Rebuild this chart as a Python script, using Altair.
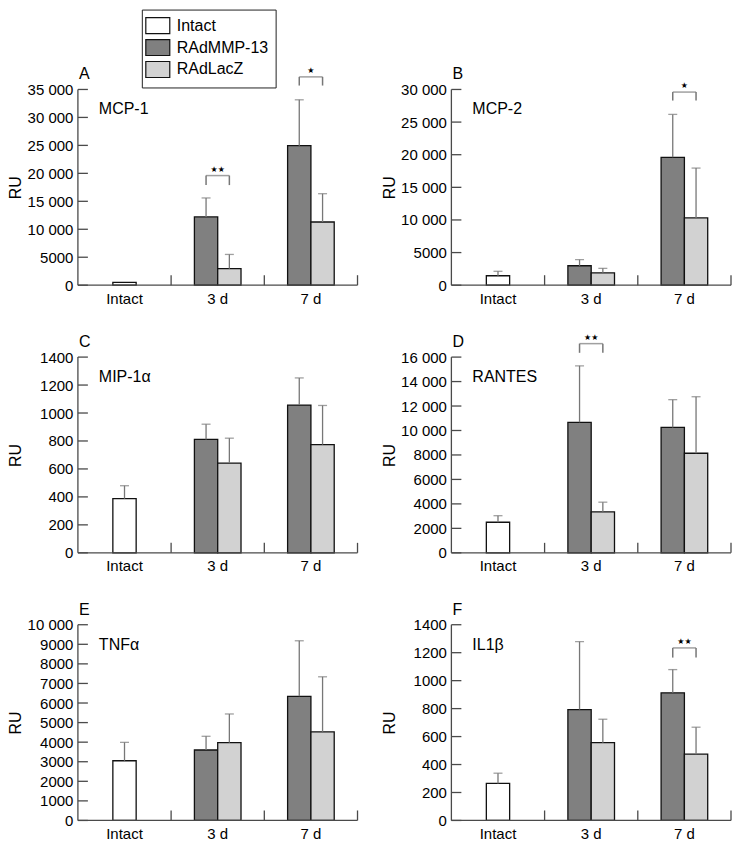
import altair as alt
import pandas as pd

FONT = "Liberation Sans"
AX = "#4a4a4a"
ERR = "#777777"

# ---------------- data ----------------
panel_letters = ["A", "B", "C", "D", "E", "F"]
cytokines = ["MCP-1", "MCP-2", "MIP-1α", "RANTES", "TNFα", "IL1β"]
y_max = [35000, 30000, 1400, 16000, 10000, 1400]
y_step = [5000, 5000, 200, 2000, 1000, 200]
categories = ["Intact", "3 d", "7 d"]
groups = ["Intact", "RAdMMP-13", "RAdLacZ"]
group_colors = ["#ffffff", "#808080", "#d2d2d2"]

intact_mean = [500, 1450, 387, 2500, 3050, 265]
intact_upper = [None, 2130, 480, 3035, 3990, 338]
mmp_3d_mean = [12200, 2980, 811, 10670, 3600, 793]
mmp_3d_upper = [15600, 3910, 920, 15290, 4300, 1279]
lacz_3d_mean = [2950, 1890, 642, 3350, 3975, 556]
lacz_3d_upper = [5500, 2580, 820, 4140, 5440, 724]
mmp_7d_mean = [24950, 19600, 1057, 10250, 6340, 913]
mmp_7d_upper = [33150, 26180, 1251, 12520, 9180, 1079]
lacz_7d_mean = [11300, 10310, 774, 8140, 4530, 474]
lacz_7d_upper = [16360, 17950, 1054, 12760, 7340, 667]

sig_panel = ["A", "A", "B", "D", "F"]
sig_day = ["3 d", "7 d", "7 d", "3 d", "7 d"]
sig_stars = ["★★", "★", "★", "★★", "★★"]
sig_top = [19600, 37250, 29600, 17100, 1234]
sig_leg = [17900, 35700, 28300, 16350, 1165]

# ---------------- tables ----------------
rows = []
for i, p in enumerate(panel_letters):
    rows.append(dict(panel=p, day="Intact", group="Intact", mean=intact_mean[i], upper=intact_upper[i]))
    rows.append(dict(panel=p, day="3 d", group="RAdMMP-13", mean=mmp_3d_mean[i], upper=mmp_3d_upper[i]))
    rows.append(dict(panel=p, day="3 d", group="RAdLacZ", mean=lacz_3d_mean[i], upper=lacz_3d_upper[i]))
    rows.append(dict(panel=p, day="7 d", group="RAdMMP-13", mean=mmp_7d_mean[i], upper=mmp_7d_upper[i]))
    rows.append(dict(panel=p, day="7 d", group="RAdLacZ", mean=lacz_7d_mean[i], upper=lacz_7d_upper[i]))
bars = pd.DataFrame(rows)

sig = pd.DataFrame(dict(panel=sig_panel, day=sig_day, stars=sig_stars, top=sig_top, leg=sig_leg))
legs_rows = []
for _, r in sig.iterrows():
    for g in groups[1:]:
        legs_rows.append(dict(panel=r.panel, day=r.day, group=g, top=r.top, leg=r.leg))
legs = pd.DataFrame(legs_rows)

one = pd.DataFrame({"k": [0]})
cat_df = pd.DataFrame({"day": categories})

W, H = 280, 196
TICK = 10
LBL = "datum.value >= 10000 ? replace(format(datum.value, ','), ',', ' ') : format(datum.value, 'd')"


def make_panel(i):
    p = panel_letters[i]
    d = bars[bars.panel == p]
    d_int = d[d.group == "Intact"]
    d_grp = d[d.group != "Intact"]
    e_int = d_int.dropna(subset=["upper"])
    e_grp = d_grp.dropna(subset=["upper"])
    s = sig[sig.panel == p]
    lg = legs[legs.panel == p]
    ticks = list(range(0, y_max[i] + 1, y_step[i]))
    tick_df = pd.DataFrame({"tv": ticks})

    xsc = alt.Scale(domain=categories, paddingInner=0, paddingOuter=0)
    osc = alt.Scale(domain=groups[1:], paddingInner=0, paddingOuter=1)
    ysc = alt.Scale(domain=[0, y_max[i]], nice=False, zero=True)
    csc = alt.Scale(domain=groups, range=group_colors)

    if i == 0:
        leg = alt.Legend(
            title=None, orient="none", legendX=64, legendY=-80, direction="vertical",
            symbolType="M-1.5,-1H1.5V1H-1.5Z", symbolSize=256,
            symbolStrokeColor="#111111", symbolStrokeWidth=1.2, symbolOpacity=1,
            labelFont=FONT, labelFontSize=16, labelColor="black", labelOffset=10,
            rowPadding=0, padding=7, strokeColor="#222222", fillColor="white",
        )
    else:
        leg = None

    xaxis = alt.Axis(title=None, ticks=False, tickSize=0, domain=False,
                     labelAngle=0, labelPadding=6, labelFontSize=15, labelFont=FONT,
                     labelColor="black")
    yaxis = alt.Axis(values=ticks, labelExpr=LBL, title="RU", ticks=False, tickSize=0,
                     domain=False, grid=False, labelPadding=5, labelFontSize=15, labelFont=FONT,
                     labelColor="black", labelOverlap=False,
                     titleFont=FONT, titleFontSize=16, titleFontWeight="normal", titleColor="black",
                     titleX=-62, titleY=H / 2, titleAngle=270, titleBaseline="middle",
                     titleAlign="center")

    xp = alt.X("day:N", scale=xsc, axis=xaxis)
    off = alt.XOffset("group:N", scale=osc)

    def Y(f):
        return alt.Y(f, scale=ysc, axis=yaxis)

    layers = []
    layers.append(alt.Chart(d_grp).mark_bar(stroke="#111111", strokeWidth=1.3).encode(
        x=xp, xOffset=off, y=Y("mean:Q"),
        color=alt.Color("group:N", scale=csc, legend=leg)))
    layers.append(alt.Chart(d_int).mark_bar(stroke="#111111", strokeWidth=1.3, width={"band": 0.25}).encode(
        x=xp, y=Y("mean:Q"),
        color=alt.Color("group:N", scale=csc, legend=leg)))
    # error bars
    layers.append(alt.Chart(e_grp).mark_rule(color=ERR, strokeWidth=1.3).encode(
        x=xp, xOffset=off, y=Y("mean:Q"), y2="upper:Q"))
    layers.append(alt.Chart(e_grp).mark_tick(color=ERR, size=9, thickness=1.3).encode(
        x=xp, xOffset=off, y=Y("upper:Q")))
    if len(e_int):
        layers.append(alt.Chart(e_int).mark_rule(color=ERR, strokeWidth=1.3).encode(
            x=xp, y=Y("mean:Q"), y2="upper:Q"))
        layers.append(alt.Chart(e_int).mark_tick(color=ERR, size=9, thickness=1.3).encode(
            x=xp, y=Y("upper:Q")))
    # significance brackets
    if len(s):
        layers.append(alt.Chart(lg).mark_rule(color=ERR, strokeWidth=1.5).encode(
            x=xp, xOffset=off, y=Y("leg:Q"), y2="top:Q"))
        layers.append(alt.Chart(s).mark_tick(color=ERR, size=W / 12, thickness=1.5).encode(
            x=xp, y=Y("top:Q")))
        layers.append(alt.Chart(s).mark_text(font="DejaVu Sans", fontSize=8, dy=-4,
                                             baseline="alphabetic", color="black").encode(
            x=xp, y=Y("top:Q"), text="stars:N"))
    # inward axis ticks
    layers.append(alt.Chart(tick_df).mark_rule(color=AX, strokeWidth=1.3).encode(
        y=Y("tv:Q"), x=alt.value(0), x2=alt.value(TICK)))
    layers.append(alt.Chart(cat_df).mark_rule(color=AX, strokeWidth=1.3, xOffset=W / 6).encode(
        x=xp, y=alt.value(H - TICK), y2=alt.value(H)))
    # axis lines
    layers.append(alt.Chart(one).mark_rule(color=AX, strokeWidth=1.3).encode(
        x=alt.value(0), y=alt.value(0), y2=alt.value(H)))
    layers.append(alt.Chart(one).mark_rule(color=AX, strokeWidth=1.3).encode(
        x=alt.value(0), x2=alt.value(W), y=alt.value(H)))
    # panel letter and cytokine name
    layers.append(alt.Chart(one).mark_text(align="left", baseline="alphabetic", font=FONT,
                                           fontSize=16, color="black").encode(
        x=alt.value(1), y=alt.value(-10), text=alt.value(p)))
    layers.append(alt.Chart(one).mark_text(align="left", baseline="alphabetic", font=FONT,
                                           fontSize=16, color="black").encode(
        x=alt.value(21), y=alt.value(25), text=alt.value(cytokines[i])))

    return alt.layer(*layers).properties(width=W, height=H)


charts = [make_panel(i) for i in range(6)]

chart = alt.concat(*charts, columns=2, spacing={"row": 72, "column": 94}, bounds="flush").resolve_scale(
    color="independent", y="independent", x="independent"
).properties(padding=0, background="white").configure_view(stroke=None)

chart.save("out.html", embed_options={"renderer": "svg", "actions": False})
